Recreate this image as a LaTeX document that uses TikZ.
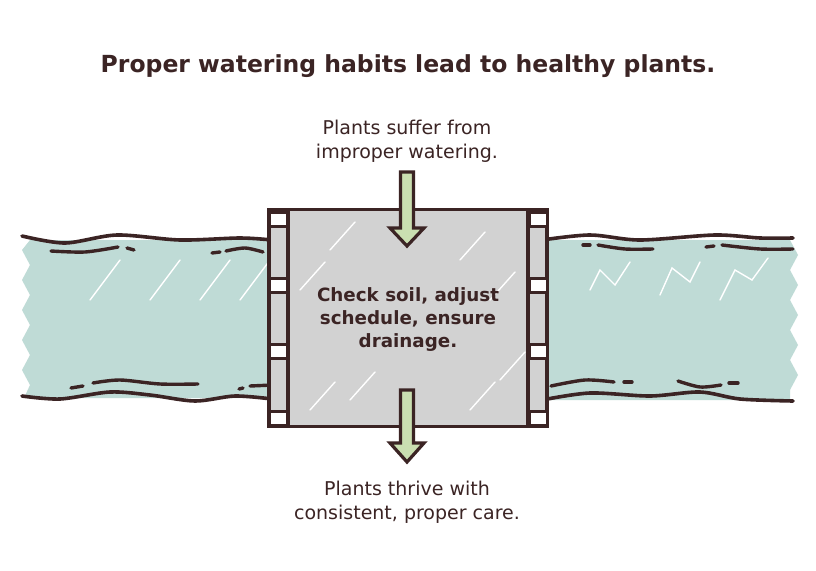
\documentclass[tikz,border=0pt]{standalone}
\usepackage{fontspec}
\setmainfont{DejaVu Sans}
\usetikzlibrary{positioning}

\definecolor{ink}{HTML}{3B2424}
\definecolor{water}{HTML}{BFDBD6}
\definecolor{gatefill}{HTML}{D2D2D2}
\definecolor{leaf}{HTML}{CADFB1}

\tikzset{
    bank/.style={draw=ink, line width=3.6pt, line cap=round},
    ripple/.style={draw=ink, line width=3.4pt, line cap=round},
    textlabel/.style={text=ink, font=\fontsize{19}{24}\selectfont, align=center},
    flow/.style={draw=ink, fill=leaf, line width=3.2pt, line join=miter},
    slot/.style={draw=ink, fill=white, line width=3pt},
    sheen/.style={draw=white, line width=1.4pt, line cap=round},
}

\begin{document}
\begin{tikzpicture}[x=1pt, y=-1pt]
    \useasboundingbox[fill=white] (0,0) rectangle (816,570);

    % Title
    \node[text=ink, font=\bfseries\fontsize{23.5}{28}\selectfont] (title) at (408,66) {Proper watering habits lead to healthy plants.};

    % Water on both sides
    \fill[water] (30,240) -- (275,240) -- (275,398) -- (24,398) -- (30,385) -- (22,370)
        -- (30,355) -- (22,340) -- (30,325) -- (22,310) -- (30,295) -- (22,280) -- (30,265)
        -- (22,250) -- cycle;
    \fill[water] (540,240) -- (790,240) -- (798,255) -- (790,270) -- (798,285) -- (790,300)
        -- (798,315) -- (790,330) -- (798,345) -- (790,360) -- (798,375) -- (790,390)
        -- (790,400) -- (540,400) -- cycle;
    \foreach \x in {90,150,200,240} {
        \draw[sheen] (\x,300) -- ++(30,-40);
    }
    \draw[sheen] (590,290) -- (600,270) -- (615,285) -- (630,262);
    \draw[sheen] (660,295) -- (672,268) -- (690,282) -- (700,262);
    \draw[sheen] (720,300) -- (735,270) -- (752,280) -- (768,258);

    % Banks, left
    \draw[bank] plot[smooth] coordinates {(22,236) (65,243) (117,235) (180,240) (240,238) (272,240)};
    \draw[bank] plot[smooth] coordinates {(22,396) (60,399) (110,392) (150,395) (195,401) (235,396) (272,399)};
    \draw[ripple] plot[smooth] coordinates {(51,251) (85,252) (118,247)};
    \draw[ripple] (127,248) -- (134,250);
    \draw[ripple] (212,253) -- (220,252);
    \draw[ripple] plot[smooth] coordinates {(226,251) (245,248) (263,252)};
    \draw[ripple] (71,388) -- (83,386);
    \draw[ripple] plot[smooth] coordinates {(93,383) (120,380) (160,384) (198,384)};
    \draw[ripple] (239,389) -- (243,388);
    \draw[ripple] (250,386) -- (273,385);

    % Banks, right
    \draw[bank] plot[smooth] coordinates {(542,240) (590,235) (640,240) (715,235) (760,238) (793,238)};
    \draw[bank] plot[smooth] coordinates {(542,400) (590,393) (650,396) (700,392) (740,399) (793,401)};
    \draw[ripple] (583,245) -- (590,245);
    \draw[ripple] plot[smooth] coordinates {(598,245) (625,249) (653,249)};
    \draw[ripple] (706,247) -- (714,246);
    \draw[ripple] plot[smooth] coordinates {(722,245) (760,249) (793,249)};
    \draw[ripple] plot[smooth] coordinates {(551,386) (585,380) (614,382)};
    \draw[ripple] (624,382) -- (632,382);
    \draw[ripple] plot[smooth] coordinates {(678,381) (700,387) (721,385)};
    \draw[ripple] (729,383) -- (738,383);

    % Gate
    \node[draw=ink, fill=gatefill, line width=3.6pt, minimum width=278pt, minimum height=217pt, inner sep=0pt] (gate) at (408,318) {};
    \foreach \x/\y in {300/290, 330/250, 460/260, 490/300, 310/410, 350/400, 470/410, 500/380} {
        \draw[sheen] (\x,\y) -- ++(25,-28);
    }
    \draw[ink, line width=3.6pt] (288,210) -- (288,427);
    \draw[ink, line width=3.6pt] (528,210) -- (528,427);
    \foreach \y in {219,285,351,418} {
        \draw[slot] (269,\y-7) rectangle (287,\y+7);
        \draw[slot] (529,\y-7) rectangle (547,\y+7);
    }
    \node[text=ink, font=\bfseries\fontsize{18.3}{23}\selectfont, align=center] (task) at (408,320)
        {Check soil, adjust\\schedule, ensure\\drainage.};

    % Labels and flow arrows
    \node[textlabel] (cause) at (407,141) {Plants suffer from\\improper watering.};
    \node[textlabel] (effect) at (407,502) {Plants thrive with\\consistent, proper care.};
    \coordinate (inTop) at (407,172);
    \coordinate (outTop) at (407,390);
    \draw[flow] (inTop) ++(-6.5,0) -- ++(0,56) -- ++(-10.5,0) -- ++(17,18) -- ++(17,-18)
        -- ++(-10.5,0) -- ++(0,-56) -- cycle;
    \draw[flow] (outTop) ++(-6.5,0) -- ++(0,53) -- ++(-10.5,0) -- ++(17,19) -- ++(17,-19)
        -- ++(-10.5,0) -- ++(0,-53) -- cycle;

\end{tikzpicture}
\end{document}
